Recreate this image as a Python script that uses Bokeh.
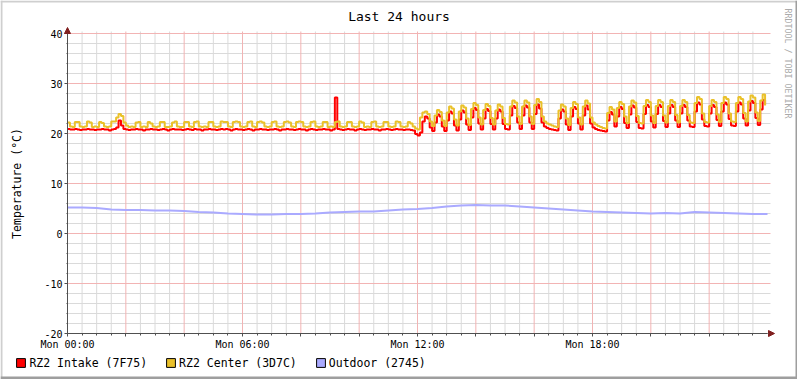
import math
from bokeh.plotting import figure
from bokeh.models import (Range1d, FixedTicker, Label, Legend, LegendItem,
                          Arrow, NormalHead, BoxAnnotation)
from bokeh.embed import file_html
from bokeh.resources import INLINE

# ---------------- data ----------------
TITLE = "Last 24 hours"
Y_LABEL = "Temperature (°C)"
WATERMARK = "RRDTOOL / TOBI OETIKER"
SERIES_NAMES = ["RZ2 Intake (7F75)", "RZ2 Center (3D7C)", "Outdoor (2745)"]
SERIES_COLORS = ["#FF0000", "#EAC12A", "#AAAAFF"]
X_TICKS = [0, 6, 12, 18]
X_TICK_LABELS = ["Mon 00:00", "Mon 06:00", "Mon 12:00", "Mon 18:00"]
Y_TICKS = [-20, -10, 0, 10, 20, 30, 40]
Y_TICK_LABELS = ["-20", "-10", "0", "10", "20", "30", "40"]
HOURS = 24
STEP_MINUTES = 5           # sample spacing of intake / center
OUTDOOR_STEP_MINUTES = 30  # sample spacing of outdoor

intake = [
    20.9, 20.8, 20.8, 20.9, 20.8, 20.7, 20.8, 20.8, 20.9, 20.8,
    20.8, 20.7, 20.8, 20.8, 20.9, 20.8, 20.8, 20.6, 20.8, 20.9,
    21.2, 22.6, 21.6, 20.9, 20.8, 20.7, 20.8, 20.8, 20.9, 20.8,
    20.8, 20.6, 20.8, 20.8, 20.9, 20.8, 20.8, 20.7, 20.8, 20.9,
    20.8, 20.6, 20.8, 20.9, 20.8, 20.8, 20.8, 20.7, 20.8, 20.9,
    20.8, 20.7, 20.9, 20.8, 20.8, 20.6, 20.8, 20.8, 20.9, 20.8,
    20.8, 20.7, 20.8, 20.9, 20.8, 20.9, 20.8, 20.6, 20.8, 20.9,
    20.8, 20.8, 20.7, 20.8, 20.9, 20.8, 20.6, 20.8, 20.8, 20.9,
    20.8, 20.8, 20.7, 20.8, 20.8, 20.9, 20.8, 20.6, 20.8, 20.8,
    20.9, 20.8, 20.8, 20.7, 20.8, 20.9, 20.8, 20.8, 20.6, 20.8,
    20.9, 20.8, 20.7, 20.8, 20.8, 20.9, 20.8, 20.8, 20.6, 20.8,
    27.2, 20.9, 20.8, 20.7, 20.8, 20.9, 20.8, 20.8, 20.6, 20.8,
    20.9, 20.8, 20.7, 20.8, 20.8, 20.9, 20.8, 20.8, 20.6, 20.8,
    20.8, 20.9, 20.8, 20.7, 20.8, 20.9, 20.8, 20.8, 20.7, 20.8,
    20.8, 20.7, 20.6, 19.9, 19.6,
    20.2, 22.4, 23.4, 23.0, 21.2,
    20.5, 22.2, 23.8, 23.4, 21.4,
    20.5, 22.6, 24.4, 24.0, 21.6,
    20.6, 22.8, 24.6, 24.2, 21.8,
    20.7, 23.2, 25.1, 24.7, 22.0,
    20.8, 23.0, 24.9, 24.5, 21.9,
    20.8, 23.0, 24.8, 24.4, 21.9,
    20.9, 20.8, 23.6, 25.5, 25.1, 22.2,
    20.9, 23.6, 25.6, 25.2, 22.2,
    20.9, 23.9, 25.8, 25.0,
    22.2, 21.4, 21.1, 20.9, 20.8, 20.7, 20.6,
    23.0, 24.8, 24.4, 21.8,
    20.7, 23.4, 25.3, 24.9, 22.0,
    20.8, 23.6, 25.6, 24.8,
    22.0, 21.2, 20.9, 20.7, 20.6, 20.5, 20.4,
    22.6, 24.3, 23.8, 21.4,
    23.4, 25.3, 24.9, 22.1,
    21.1, 23.8, 25.6, 25.2, 22.3,
    21.1, 21.0, 23.9, 25.7, 25.3, 22.4,
    21.2, 23.9, 25.7, 25.3, 22.5,
    21.3, 24.0, 25.7, 25.3, 22.6,
    21.3, 24.0, 25.7, 25.3, 22.6,
    21.4, 21.3, 24.4, 26.2, 25.8, 22.8,
    21.5, 21.4, 24.0, 25.7, 25.3, 22.7,
    21.5, 24.4, 26.2, 25.8, 22.9,
    21.6, 21.5, 24.4, 26.2, 25.8, 23.0,
    21.6, 24.6, 26.5, 26.1, 23.1,
    21.7, 24.8, 26.7, 25.8,
]

center = [
    22.2, 21.4, 21.3, 22.3, 22.3, 21.4, 21.3, 21.4, 22.4, 22.2,
    21.3, 21.4, 21.3, 22.3, 22.1, 21.4, 21.3, 21.4, 22.4, 22.4,
    23.2, 23.9, 23.5, 22.2, 21.6, 21.3, 21.4, 21.3, 22.2, 22.3,
    21.3, 21.4, 21.3, 22.3, 22.0, 21.4, 21.3, 21.4, 22.3, 22.3,
    21.3, 21.3, 21.4, 22.2, 22.4, 21.4, 21.3, 21.3, 22.3, 22.3,
    21.4, 21.3, 22.3, 22.4, 21.4, 21.3, 21.4, 21.3, 22.3, 22.3,
    21.4, 21.3, 21.4, 22.4, 22.3, 22.3, 21.4, 21.3, 22.3, 22.4,
    22.3, 21.4, 21.3, 21.4, 22.3, 22.4, 21.4, 21.3, 22.3, 22.4,
    22.2, 21.4, 21.3, 21.4, 22.3, 22.4, 21.4, 21.3, 21.4, 22.3,
    22.4, 22.2, 21.4, 21.3, 22.3, 22.4, 22.3, 21.4, 21.3, 21.4,
    22.3, 22.4, 21.4, 21.3, 21.4, 22.3, 22.3, 21.3, 21.4, 21.3,
    22.3, 22.4, 21.4, 21.3, 21.4, 22.3, 22.3, 21.4, 21.3, 21.4,
    22.4, 22.2, 21.3, 21.4, 21.3, 22.3, 22.4, 21.4, 21.3, 21.4,
    22.3, 22.3, 21.4, 21.3, 21.4, 22.4, 22.3, 21.4, 21.3, 21.4,
    22.3, 22.0, 21.4, 21.0, 20.8,
    23.2, 24.2, 24.4, 23.9, 22.4,
    21.5, 23.6, 24.7, 24.3, 22.6,
    21.5, 24.2, 25.4, 25.0, 22.8,
    21.6, 24.4, 25.6, 25.2, 23.0,
    21.7, 24.9, 26.1, 25.7, 23.2,
    21.8, 24.7, 25.9, 25.5, 23.1,
    21.8, 24.6, 25.8, 25.4, 23.1,
    21.9, 21.8, 25.4, 26.6, 26.2, 23.4,
    21.9, 25.4, 26.6, 26.2, 23.4,
    21.9, 25.7, 26.9, 26.3,
    23.4, 22.4, 22.0, 21.8, 21.6, 21.4, 21.3,
    24.6, 25.8, 25.4, 23.0,
    21.7, 25.1, 26.3, 25.9, 23.2,
    21.8, 25.4, 26.6, 26.0,
    23.2, 22.2, 21.8, 21.5, 21.3, 21.1, 21.0,
    24.1, 25.3, 24.8, 22.4,
    25.1, 26.3, 25.9, 23.4,
    22.1, 25.4, 26.6, 26.2, 23.5,
    22.1, 22.0, 25.5, 26.7, 26.3, 23.6,
    22.1, 25.5, 26.7, 26.3, 23.6,
    22.2, 25.5, 26.7, 26.3, 23.7,
    22.2, 25.5, 26.7, 26.3, 23.7,
    22.2, 22.1, 26.1, 27.3, 26.9, 24.0,
    22.3, 22.2, 25.5, 26.7, 26.3, 23.8,
    22.3, 26.1, 27.3, 26.9, 24.0,
    22.4, 22.3, 26.1, 27.3, 26.9, 24.1,
    22.4, 26.4, 27.6, 27.2, 24.2,
    22.5, 26.6, 27.8, 25.6,
]

outdoor = [
    5.2, 5.2, 5.1, 4.8, 4.7, 4.7, 4.6, 4.6, 4.5, 4.3,
    4.2, 4.0, 3.9, 3.8, 3.8, 3.9, 3.9, 4.0, 4.2, 4.3,
    4.4, 4.4, 4.6, 4.8, 4.9, 5.1, 5.4, 5.6, 5.7, 5.6,
    5.6, 5.4, 5.2, 5.0, 4.8, 4.6, 4.4, 4.3, 4.2, 4.1,
    4.0, 4.1, 4.0, 4.3, 4.2, 4.1, 4.0, 3.9, 3.9,
]

t_fine = [i * STEP_MINUTES / 60 for i in range(len(intake))]
t_out = [i * OUTDOOR_STEP_MINUTES / 60 for i in range(len(outdoor))]

# ---------------- layout / styling ----------------
FONT = "DejaVu Sans Mono"
AXIS_COLOR = "#505050"
ARROW_COLOR = "#801F1F"
MINOR_GRID = "#DADADA"
MAJOR_GRID = "#F2B4B4"

W, H = 797, 379
F_LEFT, F_RIGHT, F_TOP, F_BOTTOM = 67, 767, 33, 333   # chart area in pixels
Y_MIN, Y_MAX = Y_TICKS[0], Y_TICKS[-1]
PX_H = (F_RIGHT - F_LEFT) / HOURS
PX_D = (F_BOTTOM - F_TOP) / (Y_MAX - Y_MIN)

p = figure(width=W, height=H,
           x_range=Range1d(-F_LEFT / PX_H, HOURS + (W - F_RIGHT) / PX_H),
           y_range=Range1d(Y_MIN - (H - F_BOTTOM) / PX_D, Y_MAX + F_TOP / PX_D),
           output_backend="svg", toolbar_location=None, min_border=0)
p.outline_line_color = None
p.background_fill_color = "white"
p.border_fill_color = "white"
p.xgrid.visible = False
p.ygrid.visible = False

# grid lines (minor grey, major red) limited to the chart area
minor_x = [h / 2 for h in range(1, 2 * HOURS) if h % 4 != 0]
major_x = [h for h in range(2, HOURS, 2)]
minor_y = [v for v in range(Y_MIN + 2, Y_MAX, 2) if v % 10 != 0]
major_y = [v for v in Y_TICKS if v != Y_MIN]
y_top_ext = Y_MAX + 2 / PX_D
x_right_ext = HOURS + 3 / PX_H
p.segment(x0=minor_x, y0=[Y_MIN] * len(minor_x), x1=minor_x, y1=[y_top_ext] * len(minor_x),
          line_color=MINOR_GRID, line_width=1)
p.segment(x0=[0] * len(minor_y), y0=minor_y, x1=[x_right_ext] * len(minor_y), y1=minor_y,
          line_color=MINOR_GRID, line_width=1)
p.segment(x0=major_x, y0=[Y_MIN] * len(major_x), x1=major_x, y1=[y_top_ext] * len(major_x),
          line_color=MAJOR_GRID, line_width=1)
p.segment(x0=[0] * len(major_y), y0=major_y, x1=[x_right_ext] * len(major_y), y1=major_y,
          line_color=MAJOR_GRID, line_width=1)

# axes placed at the chart edges
p.xaxis.fixed_location = Y_MIN
p.yaxis.fixed_location = 0
p.xaxis.bounds = (0, HOURS)
p.yaxis.bounds = (Y_MIN, Y_MAX)
p.xaxis.ticker = FixedTicker(ticks=list(range(0, HOURS, 2)),
                             minor_ticks=[h / 2 for h in range(2 * HOURS)])
overrides = {h: "" for h in range(0, HOURS, 2)}
overrides.update(dict(zip(X_TICKS, X_TICK_LABELS)))
p.xaxis.major_label_overrides = overrides
p.yaxis.ticker = FixedTicker(ticks=Y_TICKS, minor_ticks=list(range(Y_MIN, Y_MAX + 1, 2)))
p.yaxis.major_label_overrides = dict(zip(Y_TICKS, Y_TICK_LABELS))
p.yaxis.axis_label = Y_LABEL
p.yaxis.axis_label_text_font = FONT
p.yaxis.axis_label_text_font_size = "11.5px"
p.yaxis.axis_label_text_font_style = "normal"
p.yaxis.axis_label_text_color = "black"
p.yaxis.axis_label_standoff = 17
for ax in (p.xaxis, p.yaxis):
    ax.axis_line_color = AXIS_COLOR
    ax.major_tick_line_color = AXIS_COLOR
    ax.minor_tick_line_color = AXIS_COLOR
    ax.major_tick_in = 0
    ax.major_tick_out = 3
    ax.minor_tick_in = 0
    ax.minor_tick_out = 2
    ax.major_label_text_font = FONT
    ax.major_label_text_font_size = "10px"
    ax.major_label_text_color = "black"
p.xaxis.major_label_standoff = 2
p.yaxis.major_label_standoff = 2
p.yaxis.minor_tick_out = 1

# axis arrows
p.add_layout(Arrow(end=NormalHead(size=6, fill_color=ARROW_COLOR, line_color=ARROW_COLOR),
                   x_start=HOURS, y_start=Y_MIN, x_end=HOURS + 7 / PX_H, y_end=Y_MIN,
                   line_color=AXIS_COLOR, line_width=1))
p.add_layout(Arrow(end=NormalHead(size=6, fill_color=ARROW_COLOR, line_color=ARROW_COLOR),
                   x_start=0, y_start=Y_MAX, x_end=0, y_end=Y_MAX + 6 / PX_D,
                   line_color=AXIS_COLOR, line_width=1))

# series
p.step(t_fine, intake, mode="after", line_color=SERIES_COLORS[0], line_width=2)
p.step(t_fine, center, mode="after", line_color=SERIES_COLORS[1], line_width=2)
p.line(t_out, outdoor, line_color=SERIES_COLORS[2], line_width=2)

# legend with square swatches (legend-only renderers, nothing drawn in the chart)
nan = float("nan")
items = []
for name, color in zip(SERIES_NAMES, SERIES_COLORS):
    r = p.quad(left=[nan], right=[nan], top=[nan], bottom=[nan], fill_color=color,
               fill_alpha=1, line_color="black", line_width=1)
    items.append(LegendItem(label=name, renderers=[r]))
legend = Legend(items=items, location=(15.4, H - 369.5), orientation="horizontal",
                glyph_width=11, glyph_height=11, label_height=11, label_width=10,
                label_standoff=3, spacing=18, padding=0, margin=0,
                border_line_color=None, background_fill_alpha=0,
                label_text_font=FONT, label_text_font_size="11.5px",
                label_text_color="black")
p.add_layout(legend)

# title and watermark
p.add_layout(Label(x=398.5, y=H - 16, x_units="screen", y_units="screen", text=TITLE,
                   text_align="center", text_baseline="middle", text_font=FONT,
                   text_font_size="13px", text_color="black"))
p.add_layout(Label(x=787, y=H - 8, x_units="screen", y_units="screen", text=WATERMARK,
                   angle=-math.pi / 2, text_align="left", text_baseline="middle",
                   text_font=FONT, text_font_size="8.3px", text_color="#AAAAAA"))

# 3-D style outer border
for kw, col in ((dict(top=H, bottom=H - 2), "#CFCFCF"),
                (dict(left=0, right=2), "#CFCFCF"),
                (dict(left=W - 2, right=W), "#9E9E9E"),
                (dict(top=3, bottom=0), "#9E9E9E")):
    units = {k + "_units": "screen" for k in kw}
    p.add_layout(BoxAnnotation(**kw, **units, fill_color=col, fill_alpha=1,
                               line_color=None, level="overlay"))

open("out.html", "w").write(file_html(p, INLINE))
